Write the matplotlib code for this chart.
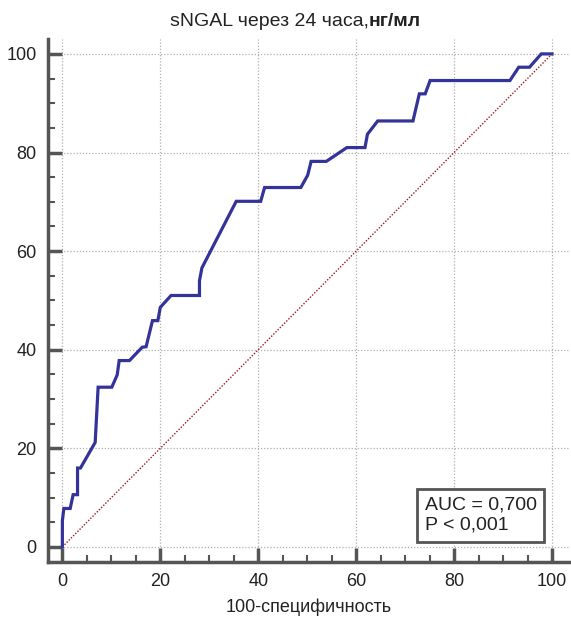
import matplotlib
matplotlib.use("Agg")
import matplotlib.pyplot as plt
from matplotlib.ticker import MultipleLocator

plt.rcParams['font.family'] = ['Liberation Sans', 'DejaVu Sans']

fpr = [0, 0, 0.3, 1.6, 2.2, 3.1, 3.1, 3.7, 6.7, 7.3, 10.1, 11.2, 11.6, 13.7, 16.3, 17.1,
       18.4, 19.5, 20.0, 22.2, 28.0, 28.0, 28.5, 35.5, 40.5, 41.3, 48.7, 50.1, 50.8, 53.9,
       58.1, 61.8, 62.3, 64.4, 71.6, 72.9, 74.1, 75.1, 91.4, 93.2, 95.4, 97.8, 100]
tpr = [0, 5.3, 7.8, 7.8, 10.6, 10.6, 16.0, 16.0, 21.2, 32.4, 32.4, 34.9, 37.8, 37.8, 40.5, 40.6,
       45.9, 45.9, 48.6, 51.0, 51.0, 54.0, 56.6, 70.1, 70.1, 72.9, 72.9, 75.4, 78.2, 78.2,
       81.0, 81.0, 83.7, 86.4, 86.4, 91.9, 91.9, 94.6, 94.6, 97.3, 97.3, 100, 100]
diag = [0, 100]
ticks = [0, 20, 40, 60, 80, 100]

fig = plt.figure(figsize=(5.71, 6.17), dpi=100)
ax = fig.add_axes([0.0835, 0.0896, 0.915, 0.847])

ax.plot(diag, diag, color='#9b1c1c', lw=1.0, ls=(0, (1, 1.2)), zorder=2)
ax.plot(fpr, tpr, color='#333399', lw=2.3, zorder=3, solid_joinstyle='miter')

ax.set_xlim(-3, 103.7)
ax.set_ylim(-3, 103)
ax.set_xticks(ticks)
ax.set_yticks(ticks)
ax.xaxis.set_minor_locator(MultipleLocator(5))
ax.yaxis.set_minor_locator(MultipleLocator(5))

ax.grid(True, which='major', color='#b0b0b0', ls=(0, (1, 1.5)), lw=0.9)
for s in ['top', 'right']:
    ax.spines[s].set_visible(False)
for s in ['left', 'bottom']:
    ax.spines[s].set_color('#555555')
    ax.spines[s].set_linewidth(2.5)

ax.tick_params(which='major', direction='in', length=10, width=2.5, color='#555555',
               labelsize=13, labelcolor='#222222', pad=8)
ax.tick_params(which='minor', direction='in', length=5, width=1.5, color='#555555')

ax.set_xlabel('100-специфичность', fontsize=13, color='#222222', labelpad=6)

# title: normal part + bold part placed adjacent
fig.canvas.draw()
r = fig.canvas.get_renderer()
t1 = fig.text(0, 0.965, 'sNGAL через 24 часа,', fontsize=14, ha='left', va='center', color='#222222')
t2 = fig.text(0, 0.965, 'нг/мл', fontsize=14, ha='left', va='center', weight='bold', color='#222222')
w1 = t1.get_window_extent(r).width
w2 = t2.get_window_extent(r).width
W = fig.bbox.width
start = 295 - (w1 + w2) / 2
t1.set_x(start / W)
t2.set_x((start + w1) / W)

ax.text(74.0, 6.4, 'AUC = 0,700\nP < 0,001', fontsize=14, ha='left', va='center', color='#222222',
        linespacing=1.25,
        bbox=dict(boxstyle='square,pad=0.4', facecolor='white', edgecolor='#555555', lw=2))

fig.savefig('out.png', dpi=100)
